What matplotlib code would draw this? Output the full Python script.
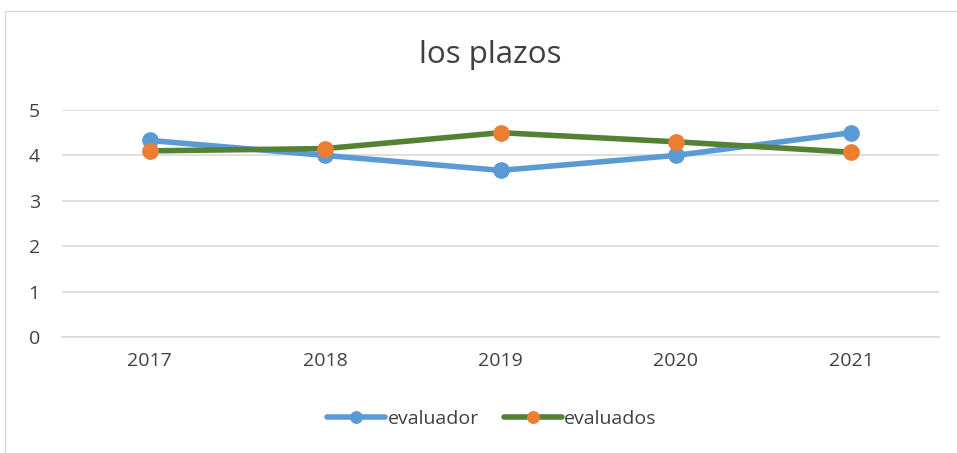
import matplotlib
matplotlib.use('Agg')
import matplotlib.pyplot as plt
from matplotlib.patches import Rectangle

years = ['2017', '2018', '2019', '2020', '2021']
evaluador = [4.33, 4.0, 3.67, 4.0, 4.5]
evaluados = [4.1, 4.15, 4.5, 4.3, 4.07]

plt.rcParams['font.family'] = ['Open Sans', 'DejaVu Sans']

fig = plt.figure(figsize=(9.57, 4.53), dpi=100)
ax = fig.add_axes([62 / 957, 1 - 337 / 453, 877 / 957, 227 / 453])

# chart border (Excel style)
fig.patches.append(Rectangle((5 / 957, -0.1), 1.2, (453 - 11) / 453 + 0.1,
                             transform=fig.transFigure, fill=False,
                             edgecolor='#d9d9d9', linewidth=1))

x = range(len(years))
ax.plot(x, evaluador, color='#5b9bd5', linewidth=4, marker='o', markersize=11,
        markerfacecolor='#5b9bd5', markeredgecolor='#5b9bd5', label='evaluador',
        solid_capstyle='round', zorder=3)
ax.plot(x, evaluados, color='#548235', linewidth=4, marker='o', markersize=11,
        markerfacecolor='#ed7d31', markeredgecolor='#ed7d31', label='evaluados',
        solid_capstyle='round', zorder=3)

ax.set_xlim(-0.5, len(years) - 0.5)
ax.set_ylim(0, 5)
ax.set_yticks(range(0, 6))
ax.set_xticks(list(x))
ax.set_xticklabels(years)
ax.grid(axis='y', color='#d9d9d9', linewidth=1.2)
ax.set_axisbelow(True)
for s in ['top', 'right', 'left']:
    ax.spines[s].set_visible(False)
ax.spines['bottom'].set_color('#d9d9d9')
ax.spines['bottom'].set_linewidth(1.2)
ax.tick_params(axis='both', length=0, labelsize=14, colors='#404040')
ax.tick_params(axis='x', pad=11)
ax.tick_params(axis='y', pad=16)

fig.text(0.512, 1 - 55 / 453, 'los plazos', ha='center', va='center',
         fontsize=22.5, color='#404040')

fig.legend(loc='center', bbox_to_anchor=(0.514, 1 - 419 / 453), ncol=2, frameon=False,
           fontsize=14, handlelength=3.0, columnspacing=1.3, handletextpad=0.1,
           labelcolor='#404040', markerscale=0.75)

fig.savefig('out.png', dpi=100, facecolor='white')
